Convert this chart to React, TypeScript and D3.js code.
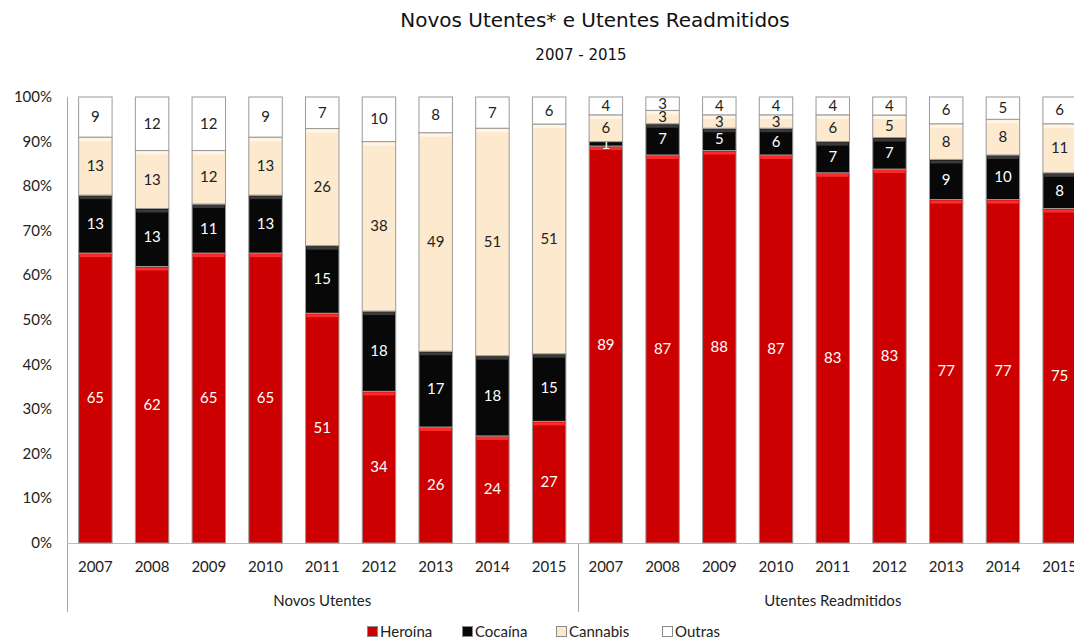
import { useEffect, useRef } from 'react';
import * as d3 from 'd3';

const groups = ['Novos Utentes', 'Utentes Readmitidos'];
const years = ['2007', '2008', '2009', '2010', '2011', '2012', '2013', '2014', '2015'];
const seriesNames = ['Heroína', 'Cocaína', 'Cannabis', 'Outras'];

// Novos Utentes, 2007..2015
const novosHeroina = [65, 62, 65, 65, 51, 34, 26, 24, 27];
const novosCocaina = [13, 13, 11, 13, 15, 18, 17, 18, 15];
const novosCannabis = [13, 13, 12, 13, 26, 38, 49, 51, 51];
const novosOutras = [9, 12, 12, 9, 7, 10, 8, 7, 6];

// Utentes Readmitidos, 2007..2015
const readHeroina = [89, 87, 88, 87, 83, 83, 77, 77, 75];
const readCocaina = [1, 7, 5, 6, 7, 7, 9, 10, 8];
const readCannabis = [6, 3, 3, 3, 6, 5, 8, 8, 11];
const readOutras = [4, 3, 4, 4, 4, 4, 6, 5, 6];

const yTicks = [0, 0.1, 0.2, 0.3, 0.4, 0.5, 0.6, 0.7, 0.8, 0.9, 1];

const colors = ['#cc0000', '#080808', '#fde9cd', '#ffffff'];
const highlight = ['#ff2a2a', '#3a3a3a', '#fff6e8', '#ffffff'];
const labelColors = ['#ffffff', '#ffffff', '#222222', '#222222'];

const FONT = 'Lato, "Open Sans", sans-serif';

const App = () => {
  const svgRef = useRef<SVGSVGElement>(null);

  useEffect(() => {
    if (!svgRef.current) return;
    const width = 1074;
    const height = 641;
    const margin = { top: 97, left: 67, bottom: 543 };

    const rows = [
      ...years.map((y, i) => ({ key: `n${y}`, year: y, group: groups[0], Heroína: novosHeroina[i], Cocaína: novosCocaina[i], Cannabis: novosCannabis[i], Outras: novosOutras[i] })),
      ...years.map((y, i) => ({ key: `r${y}`, year: y, group: groups[1], Heroína: readHeroina[i], Cocaína: readCocaina[i], Cannabis: readCannabis[i], Outras: readOutras[i] })),
    ];

    const svg = d3.select(svgRef.current);
    svg.selectAll('*').remove();
    svg.attr('width', width).attr('height', height).style('display', 'block');

    const x = d3.scaleBand()
      .domain(rows.map(d => d.key))
      .range([margin.left, 1088])
      .paddingInner(0.41)
      .paddingOuter(0.205);

    const y = d3.scaleLinear().domain([0, 1]).range([margin.bottom, margin.top]);

    const stack = d3.stack<any>().keys(seriesNames).offset(d3.stackOffsetExpand);
    const series = stack(rows as any);

    // title
    svg.append('text')
      .attr('x', 595).attr('y', 27)
      .attr('text-anchor', 'middle')
      .style('font-family', '"Century Gothic", "DejaVu Sans", sans-serif')
      .style('font-size', '20px')
      .style('fill', '#111')
      .text('Novos Utentes* e Utentes Readmitidos');
    svg.append('text')
      .attr('x', 581).attr('y', 60)
      .attr('text-anchor', 'middle')
      .style('font-family', '"Century Gothic", "DejaVu Sans", sans-serif')
      .style('font-size', '15px')
      .style('fill', '#111')
      .text('2007 - 2015');

    // y axis labels
    svg.append('g')
      .selectAll('text')
      .data(yTicks)
      .enter()
      .append('text')
      .attr('x', 52)
      .attr('y', d => y(d) + 5)
      .attr('text-anchor', 'end')
      .style('font-family', FONT)
      .style('font-size', '15px')
      .style('fill', '#222')
      .text(d => d3.format('.0%')(d));

    // axis lines
    svg.append('line')
      .attr('x1', margin.left + 0.5).attr('x2', margin.left + 0.5)
      .attr('y1', margin.top).attr('y2', 612)
      .attr('stroke', '#a6a6a6');
    svg.append('line')
      .attr('x1', margin.left).attr('x2', width)
      .attr('y1', margin.bottom + 0.5).attr('y2', margin.bottom + 0.5)
      .attr('stroke', '#bfbfbf');
    const sepX = Math.round((x('n2015')! + x.bandwidth() + x('r2007')!) / 2) + 0.5;
    svg.append('line')
      .attr('x1', sepX).attr('x2', sepX)
      .attr('y1', margin.bottom).attr('y2', 612)
      .attr('stroke', '#a6a6a6');

    // bars
    series.forEach((s, si) => {
      const g = svg.append('g');
      s.forEach((seg: any) => {
        const bx = x(seg.data.key)!;
        const y0 = y(seg[0]);
        const y1 = y(seg[1]);
        const h = y0 - y1;
        g.append('rect')
          .attr('x', bx).attr('y', y1)
          .attr('width', x.bandwidth()).attr('height', h)
          .attr('fill', colors[si])
          .attr('stroke', '#9a9a9a')
          .attr('stroke-width', 1);
        if (h > 6) {
          g.append('rect')
            .attr('x', bx + 1).attr('y', y1 + 1)
            .attr('width', x.bandwidth() - 2).attr('height', 3)
            .attr('fill', highlight[si]);
        }
        const v = seg.data[seriesNames[si]];
        g.append('text')
          .attr('x', bx + x.bandwidth() / 2)
          .attr('y', (y0 + y1) / 2 + 5)
          .attr('text-anchor', 'middle')
          .style('font-family', FONT)
          .style('font-size', '15px')
          .style('fill', labelColors[si])
          .text(v);
      });
    });

    // year labels
    svg.append('g')
      .selectAll('text')
      .data(rows)
      .enter()
      .append('text')
      .attr('x', d => x(d.key)! + x.bandwidth() / 2)
      .attr('y', 572)
      .attr('text-anchor', 'middle')
      .style('font-family', FONT)
      .style('font-size', '15px')
      .style('fill', '#222')
      .text(d => d.year);

    // group labels (second one is centred on the full, cropped category span)
    groups.forEach((gname, gi) => {
      const keys = rows.filter(r => r.group === gname).map(r => r.key);
      const start = x(keys[0])! - x.step() * x.paddingInner() / 2;
      const end = x(keys[keys.length - 1])! + x.bandwidth() + x.step() * x.paddingInner() / 2;
      svg.append('text')
        .attr('x', (start + end) / 2)
        .attr('y', 606)
        .attr('text-anchor', 'middle')
        .style('font-family', FONT)
        .style('font-size', '15px')
        .style('fill', '#222')
        .text(gname);
    });

    // legend
    const legendX = [367, 462, 556, 662];
    seriesNames.forEach((name, i) => {
      const lg = svg.append('g').attr('transform', `translate(${legendX[i]},626)`);
      lg.append('rect')
        .attr('x', 0.5).attr('y', 0.5)
        .attr('width', 10).attr('height', 10)
        .attr('fill', colors[i])
        .attr('stroke', '#8a8a8a');
      lg.append('text')
        .attr('x', 13).attr('y', 11)
        .style('font-family', FONT)
        .style('font-size', '15px')
        .style('fill', '#222')
        .text(name);
    });
  }, []);

  return (
    <div style={{ position: 'absolute', left: 0, top: 0, width: 1074, height: 641, overflow: 'hidden', background: '#fff' }}>
      <svg ref={svgRef}></svg>
    </div>
  );
};

export default App;
